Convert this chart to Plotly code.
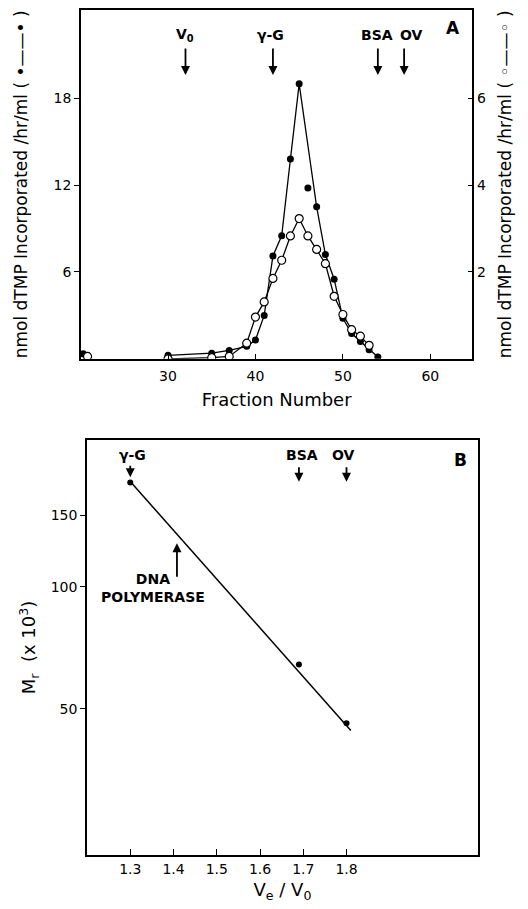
import plotly.graph_objects as go

# ---------------- Panel A data ----------------
filled_frac = [20.3, 30, 35, 37, 39, 40, 41, 42, 43, 44, 45, 46, 47, 48, 49, 50, 51, 52, 53, 54]
filled_act = [0.35, 0.24, 0.39, 0.58, 0.86, 1.3, 3.0, 7.1, 8.5, 13.8, 19.0, 11.8, 10.5, 7.2, 5.5, 2.8, 1.75, 1.2, 0.62, 0.12]
filled_line_frac = [30, 35, 37, 39, 40, 41, 42, 43, 44, 45, 47, 48, 49, 50, 51, 52, 53, 54]

open_frac = [20.8, 30, 35, 37, 39, 40, 41, 42, 43, 44, 45, 46, 47, 48, 49, 50, 51, 52, 53]
open_act = [0.055, 0.0, 0.025, 0.055, 0.36, 0.96, 1.31, 1.85, 2.27, 2.83, 3.23, 2.83, 2.52, 2.19, 1.44, 1.02, 0.67, 0.52, 0.31]
open_line_frac = [30, 35, 37, 39, 40, 41, 42, 43, 44, 45, 46, 47, 48, 49, 50, 51, 52, 53]

markers_a_labels = ["V<sub>0</sub>", "γ-G", "BSA", "OV"]
markers_a_frac = [32, 42, 54, 57]
markers_a_label_frac = [32, 41.7, 53.9, 57.8]

xticks_a = [30, 40, 50, 60]
yticks_left = [6, 12, 18]
yticks_right = [2, 4, 6]

# ---------------- Panel B data ----------------
std_labels = ["γ-G", "BSA", "OV"]
std_ve_v0 = [1.30, 1.69, 1.80]
std_label_ve_v0 = [1.305, 1.697, 1.793]
std_mr = [181, 64.3, 46.1]
fit_ve_v0 = [1.30, 1.81]
fit_mr = [182, 44.2]
polymerase_ve_v0 = 1.408

xticks_b = [1.3, 1.4, 1.5, 1.6, 1.7, 1.8]
yticks_b = [50, 100, 150]

FONT = "DejaVu Sans"
BLACK = "black"

fig = go.Figure()

def pick(xs, ys, keep):
    d = dict(zip(xs, ys))
    return keep, [d[k] for k in keep]

lx, ly = pick(filled_frac, filled_act, filled_line_frac)
fig.add_trace(go.Scatter(x=lx, y=ly, mode="lines", line=dict(color=BLACK, width=1.3),
                         xaxis="x", yaxis="y", showlegend=False, hoverinfo="skip"))
ox, oy = pick(open_frac, open_act, open_line_frac)
fig.add_trace(go.Scatter(x=ox, y=oy, mode="lines", line=dict(color=BLACK, width=1.3),
                         xaxis="x", yaxis="y3", showlegend=False, hoverinfo="skip"))
fig.add_trace(go.Scatter(x=open_frac, y=open_act, mode="markers",
                         marker=dict(symbol="circle", size=8, color="white", line=dict(color=BLACK, width=1.2)),
                         xaxis="x", yaxis="y3", showlegend=False, name="open"))
fig.add_trace(go.Scatter(x=filled_frac, y=filled_act, mode="markers",
                         marker=dict(symbol="circle", size=7, color=BLACK),
                         xaxis="x", yaxis="y", showlegend=False, name="filled"))

# Panel B
fig.add_trace(go.Scatter(x=fit_ve_v0, y=fit_mr, mode="lines", line=dict(color=BLACK, width=1.5),
                         xaxis="x2", yaxis="y2", showlegend=False, hoverinfo="skip"))
fig.add_trace(go.Scatter(x=std_ve_v0, y=std_mr, mode="markers", marker=dict(size=6, color=BLACK),
                         xaxis="x2", yaxis="y2", showlegend=False, text=std_labels))

tickfont = dict(family=FONT, size=14, color=BLACK)
titlefont = dict(family=FONT, size=17, color=BLACK)

axis_common = dict(showline=True, linecolor=BLACK, linewidth=1.6, showgrid=False, zeroline=False,
                   tickcolor=BLACK, tickwidth=1.3, tickfont=tickfont)

fig.update_layout(
    width=528, height=909,
    margin=dict(l=0, r=0, t=0, b=0),
    paper_bgcolor="white", plot_bgcolor="white",
    showlegend=False,
    xaxis=dict(domain=[81/528, 472.3/528], range=[20.05, 64.8], tickvals=xticks_a,
               ticks="inside", ticklen=5, mirror=True, anchor="y", ticklabelstandoff=4,
               title=dict(text="Fraction Number", font=dict(family=FONT, size=18, color=BLACK), standoff=10),
               **axis_common),
    yaxis=dict(domain=[1-358.8/909, 1-10/909], range=[0, 24.1], tickvals=yticks_left,
               ticks="outside", ticklen=5, mirror=True, anchor="x",
               title=dict(text="nmol dTMP Incorporated /hr/ml ( •——• )", font=titlefont, standoff=22),
               **axis_common),
    yaxis3=dict(range=[0, 24.1/3], tickvals=yticks_right, overlaying="y", side="right", anchor="x",
                ticks="inside", ticklen=5,
                title=dict(text="nmol dTMP Incorporated /hr/ml ( ◦——◦ )", font=titlefont, standoff=14),
                **axis_common),
    xaxis2=dict(domain=[87/528, 478/528], range=[1.2, 2.104], tickvals=xticks_b, ticktext=[str(v) for v in xticks_b],
                ticks="inside", ticklen=6, mirror=True, anchor="y2",
                title=dict(text="V<sub>e</sub> / V<sub>0</sub>", font=dict(family=FONT, size=18, color=BLACK), standoff=8),
                **axis_common),
    yaxis2=dict(domain=[1-855/909, 1-440/909], type="log", range=[1.3384, 2.3624], tickvals=yticks_b,
                ticktext=[str(v) for v in yticks_b],
                ticks="outside", ticklen=5, mirror=True, anchor="x2",
                title=dict(text="M<sub>r</sub>  (x 10<sup>3</sup>)", font=dict(family=FONT, size=18, color=BLACK), standoff=10),
                **axis_common),
)

annots = []
arrow_style = dict(showarrow=True, arrowhead=2, arrowsize=1, arrowwidth=1.8, arrowcolor=BLACK, text="")
lab_font = dict(family=FONT, size=14, color=BLACK, weight="bold")
center = dict(xanchor="center", yanchor="middle", showarrow=False)

# Panel A markers
for lab, fr, lfr in zip(markers_a_labels, markers_a_frac, markers_a_label_frac):
    annots.append(dict(x=fr, y=0.8137, xref="x", yref="y domain", ax=0, ay=-28, **arrow_style))
    annots.append(dict(x=lfr, y=0.9283, xref="x", yref="y domain", text=lab, font=lab_font, **center))
annots.append(dict(x=0.9514, y=0.9475, xref="x domain", yref="y domain", text="A",
                   font=dict(family=FONT, size=17, color=BLACK, weight="bold"), **center))

# Panel B markers
for lab, vv, lv in zip(std_labels, std_ve_v0, std_label_ve_v0):
    tip = 0.910 if lab == "γ-G" else 0.8995
    ln = 13 if lab == "γ-G" else 16
    annots.append(dict(x=vv, y=tip, xref="x2", yref="y2 domain", ax=0, ay=-ln, **arrow_style))
    annots.append(dict(x=lv, y=0.9639, xref="x2", yref="y2 domain", text=lab, font=lab_font, **center))
annots.append(dict(x=0.9552, y=0.9525, xref="x2 domain", yref="y2 domain", text="B",
                   font=dict(family=FONT, size=17, color=BLACK, weight="bold"), **center))
annots.append(dict(x=polymerase_ve_v0, y=0.751, xref="x2", yref="y2 domain", ax=0, ay=35, **arrow_style))
annots.append(dict(x=1.353, y=0.6436, xref="x2", yref="y2 domain", text="DNA<br>POLYMERASE",
                   font=dict(family=FONT, size=14, color=BLACK, weight="bold"), align="center", **center))

fig.update_layout(annotations=annots)
fig.write_html("out.html")
